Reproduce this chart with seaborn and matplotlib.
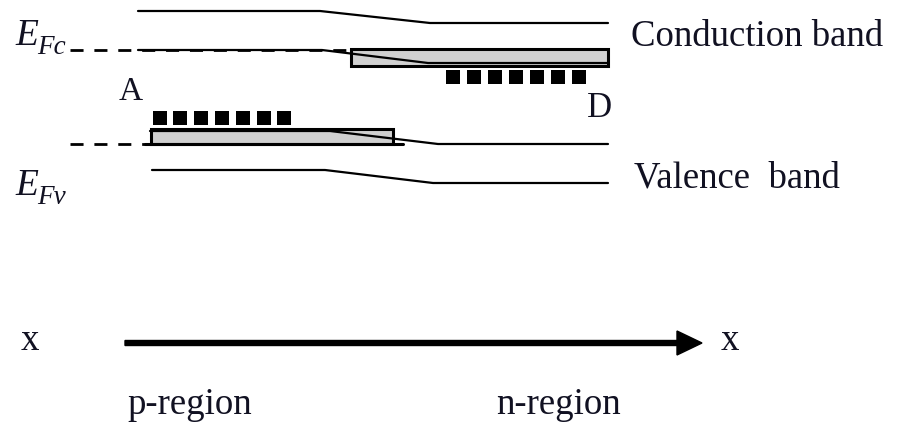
import matplotlib
matplotlib.use("Agg")
import matplotlib.pyplot as plt
import seaborn as sns
from matplotlib.patches import Rectangle

sns.set_style("white")
plt.rcParams["font.family"] = ["Liberation Serif", "DejaVu Serif"]

# band edge profiles across the junction (pixel-like units, y grows downward)
cb_top_x = [138, 320, 430, 608]
cb_top_y = [11, 11, 23, 23]
cb_low_x = [138, 322, 428, 608]
cb_low_y = [50, 50, 63, 63]
vb_top_x = [150, 330, 438, 608]
vb_top_y = [131, 131, 144, 144]
vb_low_x = [152, 325, 433, 608]
vb_low_y = [170, 170, 183, 183]

# quasi-Fermi levels (dashed)
efc_x = [70, 350]
efc_y = [50, 50]
efv_x = [70, 150]
efv_y = [144, 144]

# impurity bands: (left, right, top, bottom)
donor_band = (351, 608, 49, 66)
acceptor_band = (151, 393, 129, 144)

# impurity states (square centres)
donor_x = [453, 474, 495, 516, 537, 558, 579]
donor_y = [77] * 7
acceptor_x = [159.5, 180.3, 201.1, 221.9, 242.7, 263.5, 284.3]
acceptor_y = [117.5] * 7

fig = plt.figure(figsize=(8.97, 4.25), dpi=100)
ax = fig.add_axes([0, 0, 1, 1])

# gray impurity bands
for (l, r, t, b) in [donor_band, acceptor_band]:
    ax.add_patch(Rectangle((l, t), r - l, b - t, facecolor="#d0d0d0",
                           edgecolor="black", lw=2.2, zorder=2))
# extended bottom edge of acceptor band
sns.lineplot(x=[145, 403], y=[144, 144], color="black", lw=2.2, ax=ax,
             sort=False, estimator=None, zorder=3)

# band edges
for xs, ys in [(cb_top_x, cb_top_y), (cb_low_x, cb_low_y),
               (vb_top_x, vb_top_y), (vb_low_x, vb_low_y)]:
    sns.lineplot(x=xs, y=ys, color="black", lw=1.6, ax=ax,
                 sort=False, estimator=None, zorder=3)

# Fermi levels
for xs, ys in [(efc_x, efc_y), (efv_x, efv_y)]:
    sns.lineplot(x=xs, y=ys, color="black", lw=2.0, ax=ax, sort=False,
                 estimator=None, zorder=3, linestyle=(0, (4.7, 3.9)))

# donor / acceptor states
sns.scatterplot(x=donor_x, y=donor_y, marker="s", s=100, color="black",
                linewidth=0, ax=ax, zorder=4)
sns.scatterplot(x=acceptor_x, y=acceptor_y, marker="s", s=100, color="black",
                linewidth=0, ax=ax, zorder=4)

# position axis arrow
ax.arrow(125, 343, 577, 0, width=5, head_width=24, head_length=25,
         length_includes_head=True, color="black", zorder=3)

tc = "#111122"
fs = 26.5
ax.text(15, 45, "E", fontsize=27, style="italic", color=tc, va="baseline")
ax.text(37, 54, "Fc", fontsize=19.5, style="italic", color=tc, va="baseline")
ax.text(15, 195, "E", fontsize=27, style="italic", color=tc, va="baseline")
ax.text(37, 204, "Fv", fontsize=19.5, style="italic", color=tc, va="baseline")
ax.text(119, 100, "A", fontsize=24, color=tc, va="baseline")
ax.text(587, 117, "D", fontsize=25, color=tc, va="baseline")
ax.text(631, 46, "Conduction band", fontsize=fs, color=tc, va="baseline")
ax.text(634, 187, "Valence  band", fontsize=fs, color=tc, va="baseline")
ax.text(21, 350, "x", fontsize=fs, color=tc, va="baseline")
ax.text(721, 350, "x", fontsize=fs, color=tc, va="baseline")
ax.text(127, 414, "p-region", fontsize=fs, color=tc, va="baseline")
ax.text(496, 414, "n-region", fontsize=fs, color=tc, va="baseline")

ax.set_xlim(0, 897)
ax.set_ylim(425, 0)
ax.axis("off")
if ax.get_legend():
    ax.get_legend().remove()

fig.savefig("out.png", dpi=100)
